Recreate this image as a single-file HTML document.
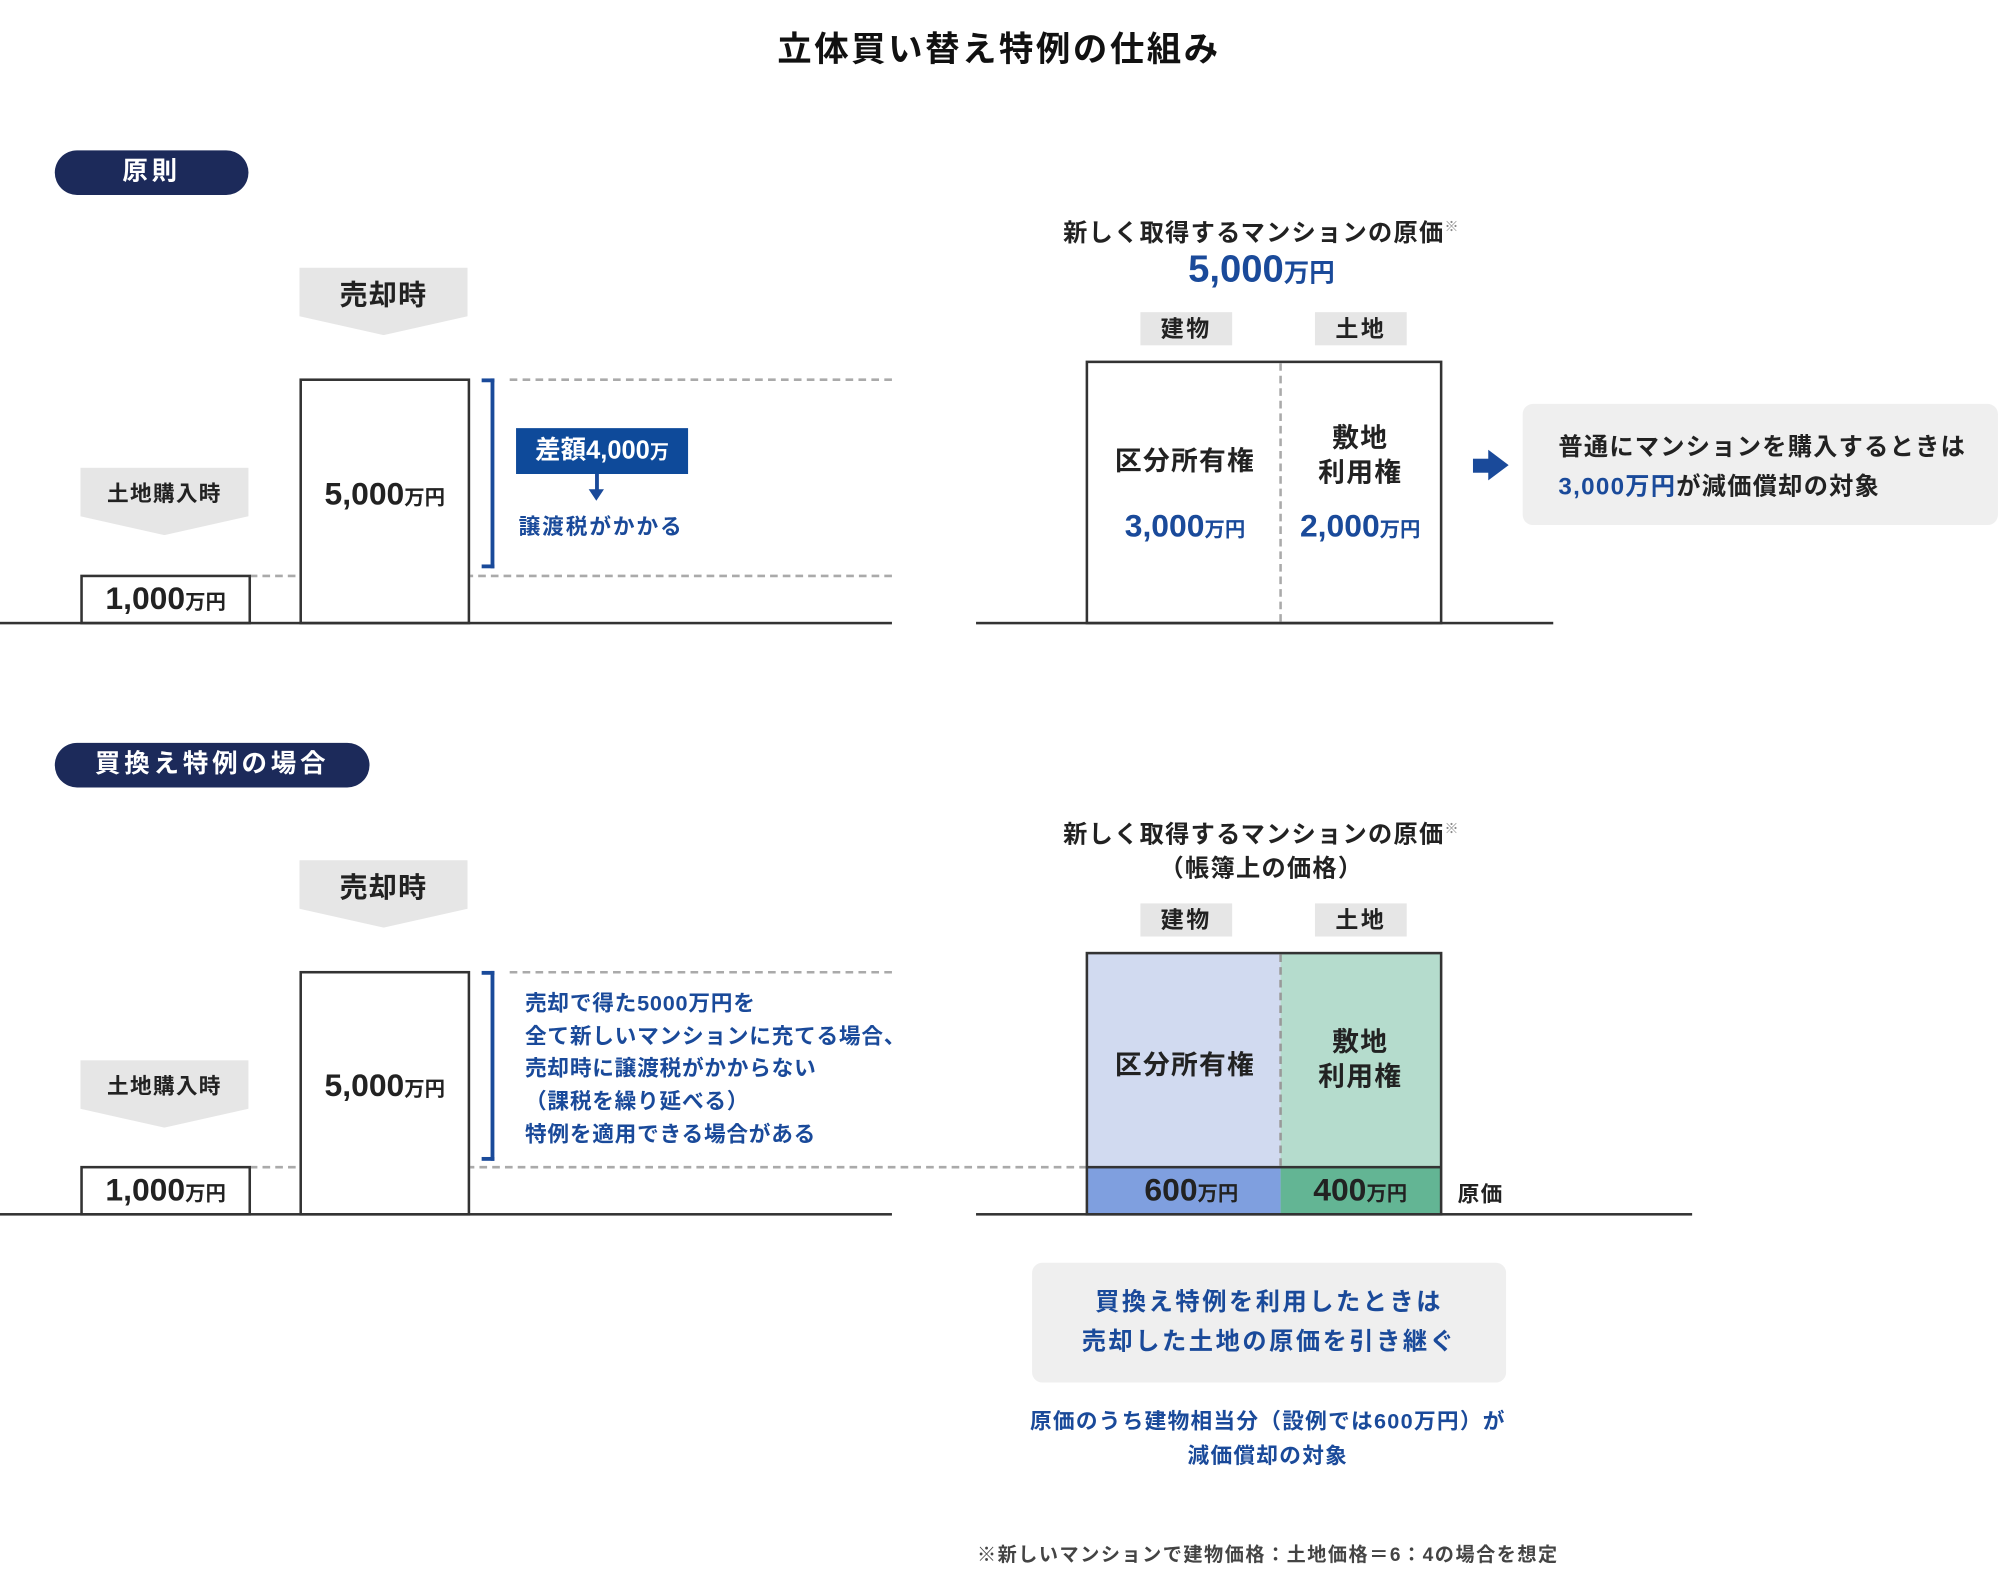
<!DOCTYPE html>
<html><head><meta charset="utf-8"><style>
html,body{margin:0;padding:0;background:#fff;width:1998px;height:1582px;overflow:hidden}
#w{position:absolute;left:0;top:0;width:1568px;height:1242px;transform:scale(1.2742);transform-origin:0 0;font-family:"Liberation Sans","Noto Sans CJK JP",sans-serif;font-weight:bold;color:#222}
.a{position:absolute}
.c{position:absolute;text-align:center;white-space:nowrap}
.pill{position:absolute;background:#1c2a5a;color:#fff;border-radius:18px;text-align:center;font-size:20px;line-height:35px;height:35px;letter-spacing:3px}
.pent{position:absolute;width:132px;height:53px;background:#e6e6e6;clip-path:polygon(0 0,100% 0,100% 72%,50% 100%,0 72%);text-align:center}
.box{position:absolute;border:2px solid #333;box-sizing:border-box;background:#fff}
.gl{position:absolute;height:2px;background:#333}
.dh{position:absolute;height:0;border-top:2px dashed #aaa}
.br{position:absolute;border:3px solid #1a4a9a;border-left:none;width:10px;box-sizing:border-box}
.tag{position:absolute;width:72px;height:26px;background:#e6e6e6;text-align:center;font-size:18px;line-height:26px;letter-spacing:2px}
.num{font-size:25px}
.num small{font-size:16px}
.blue{color:#1a4a9a}
</style></head><body><div id="w">
<div class="c" style="left:0;width:1568px;top:17px;font-size:27px;color:#111;letter-spacing:2px">立体買い替え特例の仕組み</div>

<!-- top section -->
<div class="pill" style="left:43px;top:118px;width:152px">原則</div>
<div class="pent" style="left:235px;top:210px"><div style="font-size:22px;line-height:44px;letter-spacing:1px">売却時</div></div>
<div class="pent" style="left:63px;top:367px"><div style="font-size:17px;line-height:42px;letter-spacing:1px">土地購入時</div></div>
<div class="dh" style="left:400px;width:300px;top:297px"></div>
<div class="dh" style="left:196px;width:504px;top:451px"></div>
<div class="box" style="left:235px;top:297px;width:134px;height:193px"></div>
<div class="c num" style="left:235px;width:134px;top:374px">5,000<small>万円</small></div>
<div class="box" style="left:63px;top:451px;width:134px;height:39px"></div>
<div class="c num" style="left:63px;width:134px;top:456px">1,000<small>万円</small></div>
<div class="gl" style="left:0;width:700px;top:488px"></div>
<div class="br" style="left:378px;top:297px;height:149px"></div>
<div class="a" style="left:405px;top:336px;width:135px;height:36px;background:#0e4a9a;color:#fff;font-size:20px;line-height:36px;text-align:center">差額4,000<span style="font-size:15px">万</span></div>
<div class="a" style="left:467px;top:372px;width:3px;height:14px;background:#1a4a9a"></div>
<div class="a" style="left:462px;top:384px;width:0;height:0;border-left:6px solid transparent;border-right:6px solid transparent;border-top:9px solid #1a4a9a"></div>
<div class="a blue" style="left:407px;top:399px;font-size:17px;letter-spacing:1.5px">譲渡税がかかる</div>

<div class="c" style="left:790px;width:400px;top:168px;font-size:19px;letter-spacing:1px">新しく取得するマンションの原価<sup style="font-size:11px;color:#888">※</sup></div>
<div class="c blue" style="left:790px;width:400px;top:195px;font-size:30px">5,000<span style="font-size:20px">万円</span></div>
<div class="tag" style="left:895px;top:245px">建物</div>
<div class="tag" style="left:1032px;top:245px">土地</div>
<div class="box" style="left:852px;top:283px;width:280px;height:207px"></div>
<div class="a" style="left:1004px;top:285px;height:203px;border-left:2px dashed #aaa"></div>
<div class="c" style="left:855px;width:150px;top:346px;font-size:21px;letter-spacing:1px">区分所有権</div>
<div class="c" style="left:1005px;width:125px;top:331px;font-size:21px;line-height:27px;letter-spacing:1px">敷地<br>利用権</div>
<div class="c num blue" style="left:855px;width:150px;top:399px">3,000<small>万円</small></div>
<div class="c num blue" style="left:1005px;width:125px;top:399px">2,000<small>万円</small></div>
<div class="gl" style="left:766px;width:453px;top:488px"></div>
<div class="a" style="left:1156px;top:360px;width:14px;height:11px;background:#1a4a9a"></div>
<div class="a" style="left:1168px;top:353px;width:0;height:0;border-top:12px solid transparent;border-bottom:12px solid transparent;border-left:16px solid #1a4a9a"></div>
<div class="a" style="left:1195px;top:317px;width:373px;height:95px;background:#efefef;border-radius:8px"></div>
<div class="a" style="left:1223px;top:336px;font-size:19px;line-height:31px;letter-spacing:1px">普通にマンションを購入するときは<br><span class="blue">3,000万円</span>が減価償却の対象</div>

<!-- bottom section -->
<div class="pill" style="left:43px;top:583px;width:247px">買換え特例の場合</div>
<div class="pent" style="left:235px;top:675px"><div style="font-size:22px;line-height:44px;letter-spacing:1px">売却時</div></div>
<div class="pent" style="left:63px;top:832px"><div style="font-size:17px;line-height:42px;letter-spacing:1px">土地購入時</div></div>
<div class="dh" style="left:400px;width:300px;top:762px"></div>
<div class="dh" style="left:196px;width:657px;top:915px"></div>
<div class="box" style="left:235px;top:762px;width:134px;height:192px"></div>
<div class="c num" style="left:235px;width:134px;top:838px">5,000<small>万円</small></div>
<div class="box" style="left:63px;top:915px;width:134px;height:39px"></div>
<div class="c num" style="left:63px;width:134px;top:920px">1,000<small>万円</small></div>
<div class="gl" style="left:0;width:700px;top:952px"></div>
<div class="br" style="left:378px;top:762px;height:149px"></div>
<div class="a blue" style="left:412px;top:775px;font-size:17px;line-height:25.7px;letter-spacing:0.6px">売却で得た5000万円を<br>全て新しいマンションに充てる場合、<br>売却時に譲渡税がかからない<br>（課税を繰り延べる）<br>特例を適用できる場合がある</div>

<div class="c" style="left:790px;width:400px;top:638px;font-size:19px;line-height:27px;letter-spacing:1px">新しく取得するマンションの原価<sup style="font-size:11px;color:#888">※</sup><br>（帳簿上の価格）</div>
<div class="tag" style="left:895px;top:709px">建物</div>
<div class="tag" style="left:1032px;top:709px">土地</div>
<div class="a" style="left:853px;top:748px;width:152px;height:168px;background:#d1daf0"></div>
<div class="a" style="left:1005px;top:748px;width:126px;height:168px;background:#b5dccd"></div>
<div class="a" style="left:853px;top:916px;width:152px;height:37px;background:#7f9fdf"></div>
<div class="a" style="left:1005px;top:916px;width:126px;height:37px;background:#63b594"></div>
<div class="a" style="left:853px;top:915px;width:278px;height:2px;background:#333"></div>
<div class="box" style="left:852px;top:747px;width:280px;height:207px;background:transparent"></div>
<div class="a" style="left:1004px;top:749px;height:166px;border-left:2px dashed #999"></div>
<div class="c" style="left:855px;width:150px;top:820px;font-size:21px;letter-spacing:1px">区分所有権</div>
<div class="c" style="left:1005px;width:125px;top:805px;font-size:21px;line-height:27px;letter-spacing:1px">敷地<br>利用権</div>
<div class="c num" style="left:860px;width:150px;top:920px">600<small>万円</small></div>
<div class="c num" style="left:1005px;width:125px;top:920px">400<small>万円</small></div>
<div class="a" style="left:1144px;top:923px;font-size:17px;letter-spacing:1px">原価</div>
<div class="gl" style="left:766px;width:562px;top:952px"></div>
<div class="a" style="left:810px;top:991px;width:372px;height:94px;background:#efefef;border-radius:8px"></div>
<div class="c blue" style="left:810px;width:372px;top:1007px;font-size:19px;line-height:31px;letter-spacing:2px">買換え特例を利用したときは<br>売却した土地の原価を引き継ぐ</div>
<div class="c blue" style="left:780px;width:430px;top:1102px;font-size:17px;line-height:27px;letter-spacing:1px">原価のうち建物相当分（設例では600万円）が<br>減価償却の対象</div>
<div class="c" style="left:700px;width:590px;top:1209px;font-size:15px;color:#444;letter-spacing:1.2px">※新しいマンションで建物価格：土地価格＝6：4の場合を想定</div>
</div></body></html>
